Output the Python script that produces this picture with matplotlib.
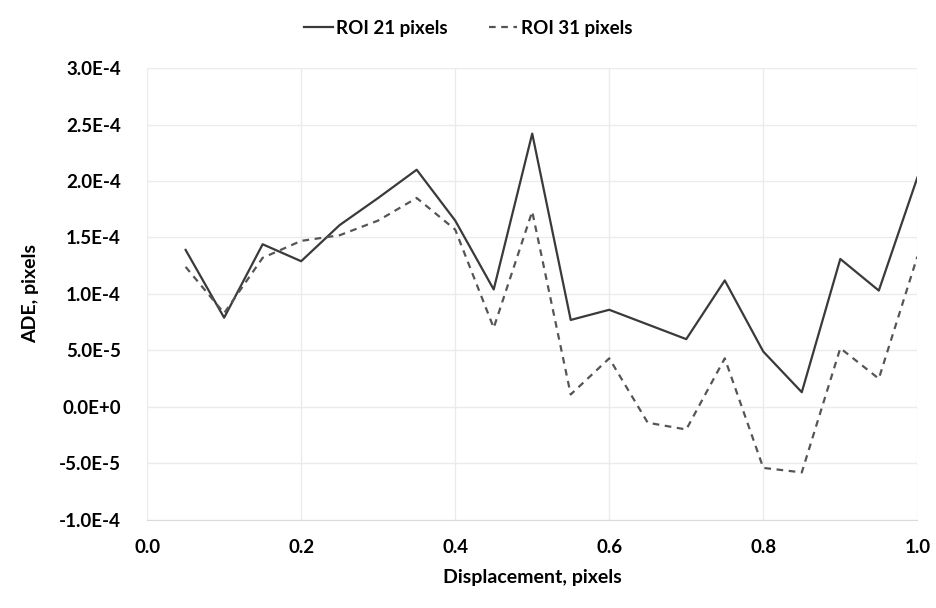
import matplotlib
matplotlib.use("Agg")
import matplotlib.pyplot as plt
from matplotlib.ticker import FuncFormatter, MultipleLocator
import numpy as np

displacement = [0.05, 0.10, 0.15, 0.20, 0.25, 0.30, 0.35, 0.40, 0.45, 0.50,
                0.55, 0.60, 0.65, 0.70, 0.75, 0.80, 0.85, 0.90, 0.95, 1.00]
roi21 = [1.39e-4, 7.9e-5, 1.44e-4, 1.29e-4, 1.61e-4, 1.85e-4, 2.10e-4, 1.65e-4, 1.04e-4, 2.42e-4,
         7.7e-5, 8.6e-5, 7.3e-5, 6.0e-5, 1.12e-4, 4.9e-5, 1.3e-5, 1.31e-4, 1.03e-4, 2.03e-4]
roi31 = [1.24e-4, 8.3e-5, 1.32e-4, 1.47e-4, 1.52e-4, 1.65e-4, 1.85e-4, 1.57e-4, 7.0e-5, 1.73e-4,
         1.1e-5, 4.3e-5, -1.4e-5, -2.0e-5, 4.3e-5, -5.4e-5, -5.8e-5, 5.2e-5, 2.5e-5, 1.33e-4]
labels = ["ROI 21 pixels", "ROI 31 pixels"]

plt.rcParams['font.family'] = ['Lato', 'DejaVu Sans']
plt.rcParams['font.weight'] = 'bold'


def excel_sci(v, pos):
    # Excel style "0.0E+0"
    if abs(v) < 1e-12:
        return "0.0E+0"
    s = f"{v:.1E}"
    mant, exp = s.split("E")
    return f"{mant}E{exp[0]}{int(exp[1:])}"


fig = plt.figure(figsize=(9.37, 6.08), dpi=100)
ax = fig.add_axes([0.157, 0.145, 0.822, 0.743])

ax.plot(displacement, roi21, color='#3a3a3a', linewidth=1.6, label=labels[0])
ax.plot(displacement, roi31, color='#555555', linewidth=1.6, linestyle=(0, (3, 2.5)),
        label=labels[1])

ax.set_xlim(0, 1.0)
ax.set_ylim(-1.0e-4, 3.0e-4)
ax.xaxis.set_major_locator(MultipleLocator(0.2))
ax.yaxis.set_major_locator(MultipleLocator(5e-5))
ax.xaxis.set_major_formatter(FuncFormatter(lambda v, p: f"{v:.1f}"))
ax.yaxis.set_major_formatter(FuncFormatter(excel_sci))

ax.grid(True, color='#ebebeb', linewidth=1.0)
ax.set_axisbelow(True)
for side in ['top', 'right', 'left']:
    ax.spines[side].set_visible(False)
ax.spines['bottom'].set_color('#dadada')
ax.tick_params(length=0, labelsize=13.5, colors='black')
ax.tick_params(axis='x', pad=14)
ax.tick_params(axis='y', pad=19)
for lbl in ax.get_xticklabels() + ax.get_yticklabels():
    lbl.set_fontweight('bold')

ax.set_xlabel("Displacement, pixels", fontsize=14, fontweight='bold', labelpad=9)
ax.set_ylabel("ADE, pixels", fontsize=14, fontweight='bold', labelpad=14)

fig.legend(loc='upper center', bbox_to_anchor=(0.5, 0.995), ncol=2, frameon=False,
           handlelength=1.5, handletextpad=0.2, columnspacing=2.2,
           prop={'weight': 'bold', 'size': 13.5})

fig.savefig("out.png", dpi=100)
plt.close(fig)
